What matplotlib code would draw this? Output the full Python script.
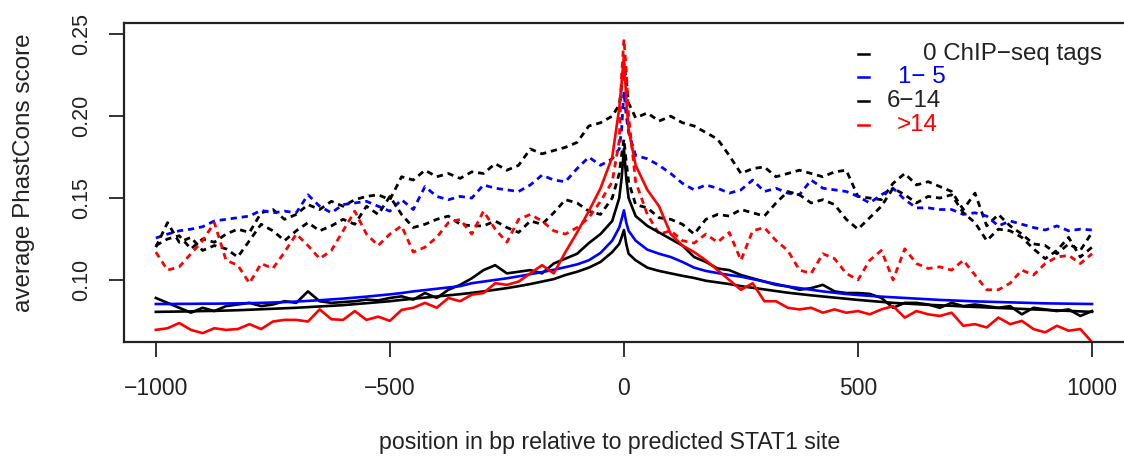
import matplotlib
matplotlib.use('Agg')
import matplotlib.pyplot as plt
from matplotlib.lines import Line2D
import numpy as np

plt.rcParams['font.family'] = ['Liberation Sans', 'DejaVu Sans']
plt.rcParams['lines.scale_dashes'] = False

# positions relative to the site (bp): 25 bp bins plus finer bins at the centre
left_pos = np.arange(-1000, 0, 25)
mid_pos = np.array([-10, -5, 0, 5, 10])
right_pos = np.arange(25, 1001, 25)
pos = np.concatenate([left_pos, mid_pos, right_pos])

# dashed curves
black_dash_upper = [
    0.121, 0.125, 0.127, 0.119, 0.125, 0.123, 0.128, 0.131, 0.129, 0.141,
    0.143, 0.137, 0.140, 0.146, 0.143, 0.148, 0.145, 0.149, 0.151, 0.152,
    0.149, 0.163, 0.161, 0.167, 0.163, 0.165, 0.162, 0.166, 0.165, 0.171,
    0.167, 0.170, 0.180, 0.177, 0.179, 0.181, 0.184, 0.194, 0.196, 0.200,
    0.207, 0.218, 0.232, 0.222, 0.208,
    0.199, 0.202, 0.197, 0.200, 0.196, 0.194, 0.190, 0.186, 0.176, 0.165,
    0.168, 0.169, 0.163, 0.165, 0.167, 0.165, 0.163, 0.166, 0.167, 0.151,
    0.150, 0.149, 0.159, 0.165, 0.158, 0.160, 0.157, 0.154, 0.143, 0.153,
    0.133, 0.140, 0.133, 0.128, 0.122, 0.121, 0.116, 0.122, 0.118, 0.129]

blue_dash = [
    0.1256, 0.128, 0.130, 0.131, 0.1325, 0.136, 0.137, 0.138, 0.139, 0.1425,
    0.141, 0.142, 0.141, 0.152, 0.145, 0.141, 0.146, 0.147, 0.148, 0.145,
    0.142, 0.149, 0.143, 0.157, 0.151, 0.149, 0.151, 0.150, 0.158, 0.156,
    0.155, 0.154, 0.158, 0.164, 0.161, 0.160, 0.168, 0.175, 0.170, 0.174,
    0.180, 0.192, 0.215, 0.200, 0.190,
    0.176, 0.174, 0.170, 0.165, 0.159, 0.155, 0.158, 0.156, 0.153, 0.155,
    0.161, 0.154, 0.156, 0.153, 0.152, 0.161, 0.156, 0.155, 0.154, 0.151,
    0.147, 0.152, 0.156, 0.149, 0.144, 0.144, 0.143, 0.143, 0.140, 0.141,
    0.139, 0.133, 0.136, 0.134, 0.132, 0.1305, 0.133, 0.130, 0.131, 0.1305]

black_dash_lower = [
    0.120, 0.135, 0.123, 0.126, 0.118, 0.121, 0.119, 0.114, 0.124, 0.134,
    0.130, 0.124, 0.130, 0.135, 0.130, 0.133, 0.137, 0.134, 0.145, 0.140,
    0.151, 0.140, 0.132, 0.134, 0.137, 0.139, 0.134, 0.133, 0.133, 0.136,
    0.132, 0.129, 0.136, 0.134, 0.141, 0.149, 0.147, 0.142, 0.140, 0.150,
    0.165, 0.176, 0.186, 0.172, 0.160,
    0.146, 0.144, 0.138, 0.137, 0.134, 0.128, 0.137, 0.140, 0.139, 0.143,
    0.141, 0.139, 0.147, 0.154, 0.152, 0.147, 0.149, 0.146, 0.137, 0.131,
    0.138, 0.145, 0.156, 0.152, 0.147, 0.151, 0.150, 0.152, 0.141, 0.135,
    0.124, 0.131, 0.130, 0.126, 0.119, 0.113, 0.118, 0.126, 0.114, 0.120]

red_dash = [
    0.117, 0.106, 0.108, 0.116, 0.124, 0.135, 0.112, 0.109, 0.098, 0.110,
    0.107, 0.117, 0.128, 0.121, 0.113, 0.118, 0.130, 0.142, 0.128, 0.121,
    0.128, 0.133, 0.117, 0.120, 0.126, 0.135, 0.137, 0.128, 0.142, 0.131,
    0.123, 0.137, 0.140, 0.136, 0.130, 0.128, 0.132, 0.138, 0.148, 0.160,
    0.185, 0.225, 0.247, 0.228, 0.200,
    0.160, 0.140, 0.128, 0.130, 0.124, 0.1225, 0.128, 0.123, 0.129, 0.112,
    0.130, 0.132, 0.124, 0.118, 0.106, 0.104, 0.116, 0.113, 0.104, 0.100,
    0.112, 0.118, 0.100, 0.119, 0.110, 0.107, 0.108, 0.106, 0.112, 0.103,
    0.094, 0.094, 0.098, 0.106, 0.103, 0.110, 0.114, 0.115, 0.110, 0.116]

# solid curves
black_solid_a = [
    0.0805, 0.0806, 0.0807, 0.0808, 0.0810, 0.0811, 0.0813, 0.0815, 0.0818, 0.0821,
    0.0824, 0.0827, 0.0830, 0.0834, 0.0838, 0.0842, 0.0846, 0.0852, 0.0858, 0.0864,
    0.0870, 0.0878, 0.0885, 0.0892, 0.0899, 0.0906, 0.0913, 0.0921, 0.0930, 0.0940,
    0.0950, 0.0962, 0.0975, 0.0990, 0.1005, 0.1030, 0.1050, 0.1075, 0.1110, 0.1170,
    0.1220, 0.1260, 0.1305, 0.1220, 0.1160,
    0.1120, 0.1075, 0.1055, 0.1040, 0.1025, 0.1012, 0.0995, 0.0985, 0.0975, 0.0962,
    0.0952, 0.0942, 0.0932, 0.0922, 0.0914, 0.0906, 0.0899, 0.0892, 0.0885, 0.0878,
    0.0872, 0.0866, 0.0860, 0.0856, 0.0852, 0.0848, 0.0845, 0.0842, 0.0838, 0.0835,
    0.0832, 0.0829, 0.0826, 0.0823, 0.0820, 0.0817, 0.0814, 0.0811, 0.0808, 0.0805]

black_solid_b = [
    0.0890, 0.0860, 0.0830, 0.0800, 0.0830, 0.0810, 0.0840, 0.0850, 0.0860, 0.0840,
    0.0850, 0.0870, 0.0860, 0.0930, 0.0870, 0.0860, 0.0865, 0.0870, 0.0880, 0.0875,
    0.0890, 0.0900, 0.0880, 0.0920, 0.0890, 0.0940, 0.0970, 0.1010, 0.1060, 0.1090,
    0.1040, 0.1050, 0.1060, 0.1040, 0.1100, 0.1130, 0.1160, 0.1225, 0.1280, 0.1360,
    0.1500, 0.1620, 0.1800, 0.1620, 0.1500,
    0.1390, 0.1330, 0.1290, 0.1250, 0.1210, 0.1140, 0.1110, 0.1070, 0.1060, 0.1030,
    0.1010, 0.0990, 0.0970, 0.0960, 0.0940, 0.0950, 0.0970, 0.0930, 0.0920, 0.0920,
    0.0915, 0.0890, 0.0830, 0.0860, 0.0860, 0.0850, 0.0830, 0.0860, 0.0840, 0.0850,
    0.0840, 0.0830, 0.0840, 0.0790, 0.0830, 0.0820, 0.0810, 0.0820, 0.0780, 0.0810]

blue_solid = [
    0.0853, 0.0853, 0.0854, 0.0854, 0.0855, 0.0855, 0.0856, 0.0857, 0.0858, 0.0860,
    0.0862, 0.0865, 0.0868, 0.0872, 0.0876, 0.0881, 0.0886, 0.0892, 0.0898, 0.0905,
    0.0912, 0.0920, 0.0930, 0.0938, 0.0946, 0.0954, 0.0962, 0.0980, 0.0990, 0.1000,
    0.1010, 0.1022, 0.1035, 0.1048, 0.1062, 0.1078, 0.1095, 0.1120, 0.1165, 0.1240,
    0.1320, 0.1370, 0.1425, 0.1350, 0.1300,
    0.1240, 0.1185, 0.1160, 0.1140, 0.1110, 0.1075, 0.1055, 0.1042, 0.1030, 0.1020,
    0.1005, 0.0990, 0.0975, 0.0960, 0.0950, 0.0940, 0.0930, 0.0922, 0.0914, 0.0908,
    0.0903, 0.0898, 0.0894, 0.0890, 0.0886, 0.0882, 0.0878, 0.0875, 0.0872, 0.0869,
    0.0867, 0.0865, 0.0863, 0.0861, 0.0859, 0.0857, 0.0856, 0.0855, 0.0854, 0.0853]

red_solid = [
    0.0695, 0.0705, 0.0737, 0.0695, 0.0675, 0.0705, 0.0695, 0.0700, 0.0730, 0.0700,
    0.0746, 0.0756, 0.0756, 0.0746, 0.0820, 0.0760, 0.0756, 0.0810, 0.0756, 0.0776,
    0.0750, 0.0817, 0.0830, 0.0860, 0.0830, 0.0890, 0.0870, 0.0910, 0.0920, 0.0980,
    0.0970, 0.0990, 0.1040, 0.1090, 0.1040, 0.1170, 0.1290, 0.1420, 0.1560, 0.1750,
    0.2050, 0.2200, 0.2370, 0.2100, 0.1920,
    0.1700, 0.1550, 0.1450, 0.1280, 0.1210, 0.1170, 0.1120, 0.1060, 0.1000, 0.0940,
    0.0980, 0.0870, 0.0870, 0.0830, 0.0820, 0.0830, 0.0800, 0.0820, 0.0800, 0.0810,
    0.0790, 0.0820, 0.0840, 0.0770, 0.0810, 0.0790, 0.0780, 0.0800, 0.0720, 0.0730,
    0.0710, 0.0770, 0.0730, 0.0750, 0.0700, 0.0680, 0.0720, 0.0690, 0.0700, 0.0620]

legend_labels = ['0 ChIP\u2212seq tags', '1\u2212 5', '6\u221214', '>14']
legend_colors = ['black', 'blue', 'black', 'red']

W, H = 1124, 459


def px(x, y):
    # pixel position -> figure fraction
    return x / W, 1 - y / H


fig = plt.figure(figsize=(W / 100, H / 100), dpi=100)
ax = fig.add_axes([124 / W, 1 - 342 / H, 1005 / W, 319 / H])

dash = (0, (4.5, 3.5))
for vals, col in [(black_dash_upper, 'black'), (blue_dash, 'blue'),
                  (black_dash_lower, 'black'), (red_dash, 'red')]:
    ax.plot(pos, vals, color=col, lw=2.0, linestyle=dash)

for vals, col in [(black_solid_a, 'black'), (black_solid_b, 'black'),
                  (blue_solid, 'blue'), (red_solid, 'red')]:
    ax.plot(pos, vals, color=col, lw=1.9)

ax.set_xlim(-1068, 1079)
ax.set_ylim(0.0621, 0.2569)
ax.set_xticks([-1000, -500, 0, 500, 1000])
ax.set_yticks([0.10, 0.15, 0.20, 0.25])
ax.set_yticklabels(['0.10', '0.15', '0.20', '0.25'], rotation=90, va='center')
ax.tick_params(direction='out', length=11, width=1.3, pad=12,
               color='#222222', labelcolor='#222222')
ax.tick_params(axis='x', labelsize=16.5, pad=14)
ax.tick_params(axis='y', labelsize=15.5)
for s in ax.spines.values():
    s.set_linewidth(1.6)
    s.set_color('#222222')

fig.text(*px(610, 443), 'position in bp relative to predicted STAT1 site',
         ha='center', va='center', fontsize=16.7, color='#222222')
fig.text(*px(24, 173), 'average PhastCons score', ha='center', va='center',
         rotation=90, fontsize=17.5, color='#222222')

# legend (dash + coloured label), drawn by hand like R's legend()
rows = [54, 77, 101, 125]
starts = [923, 898, 887, 897]
for lab, col, ry, sx in zip(legend_labels, legend_colors, rows, starts):
    x0, y0 = px(858, ry)
    x1, _ = px(869, ry)
    fig.add_artist(Line2D([x0, x1], [y0, y0], color=col, lw=1.8,
                          transform=fig.transFigure))
    fig.text(*px(sx, ry), lab, ha='left', va='center', fontsize=17.4,
             color=col if col != 'black' else '#222222')

fig.savefig('out.png', dpi=100)
